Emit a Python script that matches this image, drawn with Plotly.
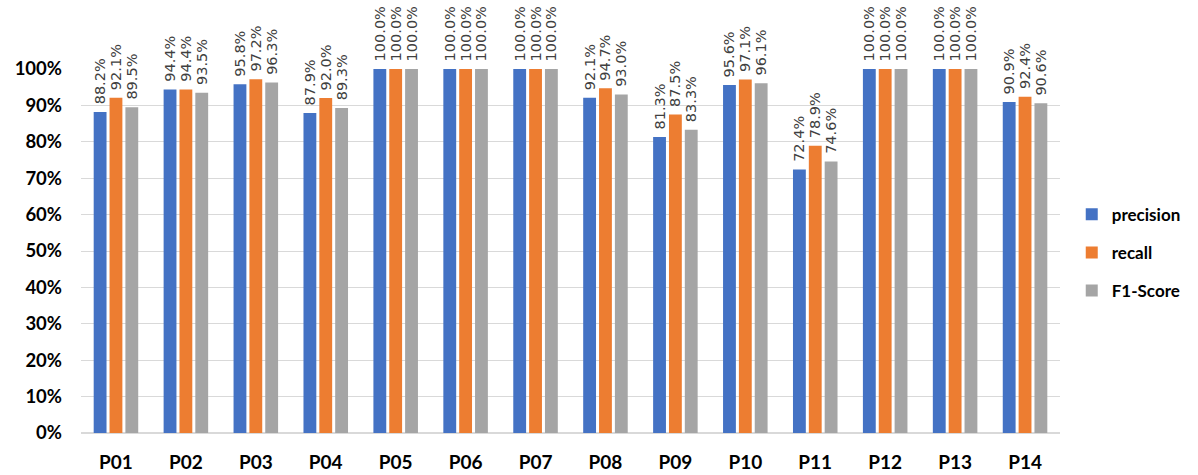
import plotly.graph_objects as go

participants = ["P01", "P02", "P03", "P04", "P05", "P06", "P07",
                "P08", "P09", "P10", "P11", "P12", "P13", "P14"]
precision = [88.2, 94.4, 95.8, 87.9, 100.0, 100.0, 100.0,
             92.1, 81.3, 95.6, 72.4, 100.0, 100.0, 90.9]
recall = [92.1, 94.4, 97.2, 92.0, 100.0, 100.0, 100.0,
          94.7, 87.5, 97.1, 78.9, 100.0, 100.0, 92.4]
f1_score = [89.5, 93.5, 96.3, 89.3, 100.0, 100.0, 100.0,
            93.0, 83.3, 96.1, 74.6, 100.0, 100.0, 90.6]
y_ticks = [0, 10, 20, 30, 40, 50, 60, 70, 80, 90, 100]

series = [
    ("precision", precision, "#4472C4"),
    ("recall", recall, "#ED7D31"),
    ("F1-Score", f1_score, "#A5A5A5"),
]

fig = go.Figure()
for name, vals, color in series:
    fig.add_trace(go.Bar(
        x=participants,
        y=vals,
        name=name,
        legendgroup=name,
        marker=dict(color=color, line=dict(width=0)),
        # a leading non-breaking space keeps the label a little above the bar
        text=[f"\u00a0{v:.1f}%" for v in vals],
        textposition="outside",
        textangle=-90,
        constraintext="none",
        cliponaxis=False,
        textfont=dict(family="DejaVu Sans", size=14.5, color="#404040"),
    ))

fig.update_layout(
    width=1198,
    height=475,
    barmode="group",
    bargap=0.32,
    bargroupgap=0.19,
    plot_bgcolor="white",
    paper_bgcolor="white",
    margin=dict(l=81, r=124, t=69, b=42),
    font=dict(family="Lato", color="black"),
    legend=dict(
        x=1.012, y=0.495, xanchor="left", yanchor="middle",
        font=dict(family="Lato", size=17, color="black", weight="bold"),
        tracegroupgap=13,
        itemwidth=30,
    ),
    showlegend=True,
)
fig.update_yaxes(
    range=[0, 100],
    tickvals=y_ticks,
    ticktext=[f"{t}%" for t in y_ticks],
    tickfont=dict(family="Lato", size=18.5, color="black", weight="bold"),
    showgrid=True,
    gridcolor="#D9D9D9",
    gridwidth=1,
    zeroline=True,
    zerolinecolor="#D9D9D9",
    ticks="",
    ticklabelstandoff=18,
    automargin=False,
)
fig.update_xaxes(
    tickfont=dict(family="Lato", size=19, color="black", weight="bold"),
    showline=False,
    ticks="",
    ticklabelstandoff=16,
    automargin=False,
)

fig.write_html("out.html")
